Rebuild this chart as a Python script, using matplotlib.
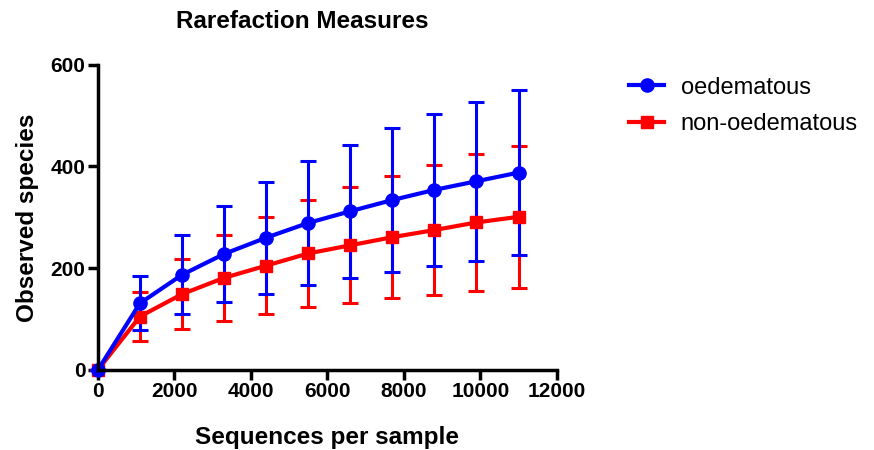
import numpy as np
import matplotlib
matplotlib.use("Agg")
import matplotlib.pyplot as plt
from matplotlib.lines import Line2D

plt.rcParams['font.family'] = ['Liberation Sans', 'DejaVu Sans']

depth = [0, 1100, 2200, 3300, 4400, 5500, 6600, 7700, 8800, 9900, 11000]
oed_mean = [0, 131, 187, 228, 260, 289, 312, 334, 354, 371, 388]
oed_sd = [0, 53, 78, 95, 110, 122, 131, 141, 149, 156, 163]
non_mean = [0, 105, 149, 181, 205, 229, 245, 261, 275, 290, 301]
non_sd = [0, 48, 69, 84, 96, 106, 114, 120, 128, 135, 140]

fig = plt.figure(figsize=(8.74, 4.5), dpi=100)
ax = fig.add_axes([0.112, 0.178, 0.525, 0.678])

# red first so blue sits on top
r = ax.errorbar(depth, non_mean, yerr=non_sd, color='#ff0000', lw=3, marker='s', ms=8,
                elinewidth=2.2, capsize=5.5, capthick=2.2, clip_on=False)
b = ax.errorbar(depth, oed_mean, yerr=oed_sd, color='#0000ff', lw=3, marker='o', ms=9.5,
                elinewidth=2.2, capsize=5.5, capthick=2.2, clip_on=False)
for c in (r, b):
    for part in c.lines[1] + c.lines[2]:
        part.set_clip_on(False)

ax.set_xlim(0, 12000)
ax.set_ylim(0, 600)
ax.set_xticks(range(0, 12001, 2000))
ax.set_yticks([0, 200, 400, 600])
for s in ['top', 'right']:
    ax.spines[s].set_visible(False)
for s in ['left', 'bottom']:
    ax.spines[s].set_linewidth(2.5)
ax.tick_params(width=2.5, length=7, labelsize=15, pad=2)
for t in ax.get_xticklabels() + ax.get_yticklabels():
    t.set_fontweight('bold')

ax.set_xlabel('Sequences per sample', fontsize=17.5, fontweight='bold', labelpad=18)
ax.set_ylabel('Observed species', fontsize=17.5, fontweight='bold', labelpad=8)
fig.text(302 / 874, 1 - 21 / 450, 'Rarefaction Measures', fontsize=17.5,
         fontweight='bold', ha='center', va='center')

h_oed = Line2D([], [], color='#0000ff', lw=3, marker='o', ms=9.5)
h_non = Line2D([], [], color='#ff0000', lw=3, marker='s', ms=8)
fig.legend([h_oed, h_non], ['oedematous', 'non-oedematous'], loc='upper left',
           bbox_to_anchor=(0.706, 0.856), frameon=False, fontsize=17,
           handlelength=1.5, labelspacing=0.6, handletextpad=0.7, borderpad=0)

fig.savefig('out.png', dpi=100)
